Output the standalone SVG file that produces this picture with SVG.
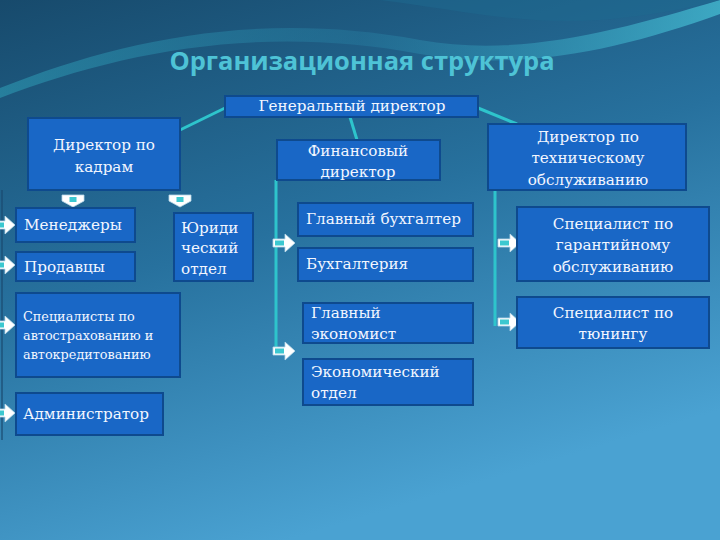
<svg xmlns="http://www.w3.org/2000/svg" width="720" height="540" viewBox="0 0 720 540">
<defs>
<linearGradient id="bg" x1="0" y1="0" x2="0.4" y2="1">
<stop offset="0" stop-color="#174a6c"/>
<stop offset="0.5" stop-color="#27719e"/>
<stop offset="1" stop-color="#4aa2d2"/>
</linearGradient>
<linearGradient id="wave" x1="0" y1="0" x2="1" y2="0">
<stop offset="0" stop-color="#2fa0b8" stop-opacity="0.55"/>
<stop offset="0.5" stop-color="#2a8cae" stop-opacity="0.3"/>
<stop offset="1" stop-color="#48c4d8" stop-opacity="0.7"/>
</linearGradient>
<g id="ra">
<polygon points="-22,-4 -10,-4 -10,-9 0,0 -10,9 -10,4 -22,4" fill="#ffffff" stroke="#b8d8e8" stroke-width="0.8"/>
<rect x="-20" y="-2.5" width="9" height="5" fill="#3cc8d0"/>
</g>
<g id="da">
<polygon points="-11,0 11,0 11,6 0,12 -11,6" fill="#ffffff" stroke="#b8d8e8" stroke-width="0.8"/>
<rect x="-3.5" y="2" width="7" height="5" fill="#3cc8d0"/>
</g>
</defs>
<style>
.box{fill:#1967c6;stroke:#0e4a8e;stroke-width:2}
.t{font-family:"DejaVu Serif","Liberation Serif",serif;font-size:15.2px;fill:#f2f6ff}
.ts{font-family:"DejaVu Serif","Liberation Serif",serif;font-size:12.8px;fill:#f2f6ff}
.c{text-anchor:middle}
.ln{stroke:#2ec4cc;stroke-width:3;fill:none}
</style>
<rect width="720" height="540" fill="url(#bg)"/>
<path d="M0,88 C120,40 260,10 420,40 C520,58 620,30 720,0 L720,14 C620,50 520,72 420,54 C260,24 120,52 0,98 Z" fill="url(#wave)"/>
<path d="M380,0 C460,10 520,25 600,20 C650,16 690,8 720,0 Z" fill="#1e6a90" opacity="0.5"/>
<text x="362" y="70" text-anchor="middle" font-family="Open Sans,DejaVu Sans,sans-serif" font-weight="bold" font-size="25.5" fill="#4ec3d6">Организационная структура</text>

<g id="connectors">
<line class="ln" x1="225" y1="108" x2="180" y2="130"/>
<line class="ln" x1="350" y1="117" x2="357" y2="140"/>
<line class="ln" x1="478" y1="108" x2="517" y2="124"/>
<line class="ln" x1="276" y1="180" x2="276" y2="352"/>
<line class="ln" x1="495" y1="190" x2="495" y2="326"/>
<line x1="2" y1="190" x2="2" y2="440" stroke="#1a4a70" stroke-width="2" opacity="0.6"/>
<use href="#ra" x="15" y="225"/>
<use href="#ra" x="15" y="265"/>
<use href="#ra" x="15" y="325"/>
<use href="#ra" x="15" y="413"/>
<use href="#ra" x="295" y="243"/>
<use href="#ra" x="295" y="351"/>
<use href="#ra" x="520" y="243"/>
<use href="#ra" x="520" y="322"/>
<use href="#da" x="73" y="195"/>
<use href="#da" x="180" y="195"/>
</g>

<g id="gen"><rect class="box" x="225" y="96" width="253" height="21"/><text class="t c" x="352" y="111">Генеральный директор</text></g>
<g id="kadry"><rect class="box" x="28" y="118" width="152" height="72"/><text class="t c" x="104" y="150">Директор по</text><text class="t c" x="104" y="172">кадрам</text></g>
<g id="fin"><rect class="box" x="277" y="140" width="163" height="40"/><text class="t c" x="358" y="156">Финансовый</text><text class="t c" x="358" y="177">директор</text></g>
<g id="tech"><rect class="box" x="488" y="124" width="198" height="66"/><text class="t c" x="588" y="142">Директор по</text><text class="t c" x="588" y="163">техническому</text><text class="t c" x="588" y="185">обслуживанию</text></g>

<g id="menedzhery"><rect class="box" x="16" y="208" width="119" height="34"/><text class="t" x="24" y="230">Менеджеры</text></g>
<g id="prodavtsy"><rect class="box" x="16" y="252" width="119" height="29"/><text class="t" x="24" y="272">Продавцы</text></g>
<g id="spec"><rect class="box" x="16" y="293" width="164" height="84"/><text class="ts" x="23" y="321">Специалисты по</text><text class="ts" x="23" y="340">автострахованию и</text><text class="ts" x="23" y="359">автокредитованию</text></g>
<g id="admin"><rect class="box" x="16" y="393" width="147" height="42"/><text class="t" x="23" y="419">Администратор</text></g>
<g id="yur"><rect class="box" x="174" y="213" width="79" height="68"/><text class="t" x="181" y="233">Юриди</text><text class="t" x="181" y="253">ческий</text><text class="t" x="181" y="274">отдел</text></g>

<g id="glbuh"><rect class="box" x="298" y="203" width="175" height="33"/><text class="t" x="306" y="224">Главный бухгалтер</text></g>
<g id="buh"><rect class="box" x="298" y="248" width="175" height="33"/><text class="t" x="306" y="269">Бухгалтерия</text></g>
<g id="glek"><rect class="box" x="303" y="303" width="170" height="40"/><text class="t" x="311" y="318">Главный</text><text class="t" x="311" y="339">экономист</text></g>
<g id="ekotd"><rect class="box" x="303" y="359" width="170" height="46"/><text class="t" x="311" y="377">Экономический</text><text class="t" x="311" y="398">отдел</text></g>

<g id="garant"><rect class="box" x="517" y="207" width="192" height="74"/><text class="t c" x="613" y="229">Специалист по</text><text class="t c" x="613" y="250">гарантийному</text><text class="t c" x="613" y="272">обслуживанию</text></g>
<g id="tuning"><rect class="box" x="517" y="297" width="192" height="51"/><text class="t c" x="613" y="318">Специалист по</text><text class="t c" x="613" y="339">тюнингу</text></g>
</svg>
